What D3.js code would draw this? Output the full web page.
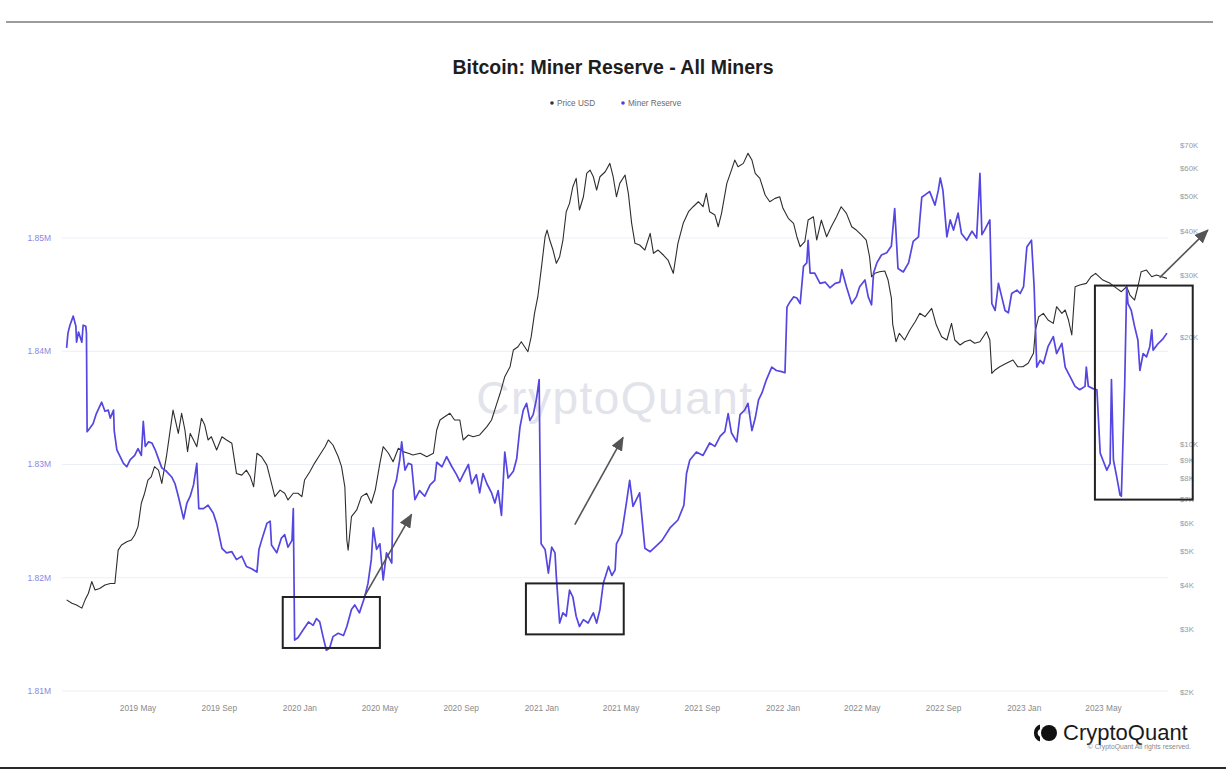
<!DOCTYPE html>
<html><head><meta charset="utf-8">
<script src="https://cdn.jsdelivr.net/npm/d3@7"></script>
<style>html,body{margin:0;padding:0;background:#fff;} svg{display:block;font-family:"Liberation Sans",Arial,sans-serif;}</style>
</head><body><svg id="chart" width="1226" height="784"></svg>
<script>
const reserveDates = ["2019-01-13","2019-01-15","2019-01-18","2019-01-23","2019-01-27","2019-01-28","2019-01-31","2019-02-05","2019-02-07","2019-02-11","2019-02-12","2019-02-13","2019-02-17","2019-02-22","2019-02-27","2019-03-07","2019-03-12","2019-03-17","2019-03-20","2019-03-25","2019-03-26","2019-03-30","2019-04-04","2019-04-09","2019-04-14","2019-04-19","2019-04-26","2019-05-01","2019-05-06","2019-05-09","2019-05-12","2019-05-17","2019-05-22","2019-05-27","2019-06-01","2019-06-06","2019-06-13","2019-06-21","2019-06-26","2019-07-01","2019-07-09","2019-07-14","2019-07-19","2019-07-24","2019-07-29","2019-08-01","2019-08-08","2019-08-15","2019-08-23","2019-08-28","2019-09-05","2019-09-12","2019-09-20","2019-09-27","2019-10-05","2019-10-12","2019-10-20","2019-10-28","2019-10-31","2019-11-04","2019-11-12","2019-11-17","2019-11-19","2019-11-27","2019-12-04","2019-12-09","2019-12-14","2019-12-20","2019-12-22","2019-12-24","2019-12-29","2020-01-06","2020-01-14","2020-01-21","2020-01-26","2020-01-31","2020-02-05","2020-02-10","2020-02-15","2020-02-20","2020-02-28","2020-03-07","2020-03-12","2020-03-19","2020-03-24","2020-03-31","2020-04-08","2020-04-13","2020-04-18","2020-04-21","2020-04-26","2020-05-01","2020-05-06","2020-05-11","2020-05-19","2020-05-21","2020-05-26","2020-05-31","2020-06-03","2020-06-08","2020-06-13","2020-06-18","2020-06-23","2020-06-30","2020-07-08","2020-07-16","2020-07-23","2020-07-26","2020-08-03","2020-08-10","2020-08-18","2020-08-25","2020-08-30","2020-09-04","2020-09-12","2020-09-17","2020-09-24","2020-09-29","2020-10-04","2020-10-10","2020-10-17","2020-10-22","2020-10-27","2020-11-01","2020-11-06","2020-11-11","2020-11-19","2020-11-24","2020-11-29","2020-12-04","2020-12-09","2020-12-14","2020-12-19","2020-12-24","2020-12-28","2020-12-29","2020-12-31","2021-01-06","2021-01-11","2021-01-16","2021-01-21","2021-01-23","2021-01-28","2021-02-02","2021-02-07","2021-02-12","2021-02-17","2021-02-22","2021-02-27","2021-03-05","2021-03-12","2021-03-20","2021-03-25","2021-03-30","2021-04-04","2021-04-12","2021-04-17","2021-04-22","2021-04-24","2021-05-02","2021-05-09","2021-05-14","2021-05-19","2021-05-29","2021-06-06","2021-06-14","2021-06-23","2021-07-02","2021-07-14","2021-07-26","2021-08-04","2021-08-08","2021-08-13","2021-08-23","2021-09-02","2021-09-12","2021-09-20","2021-09-28","2021-10-05","2021-10-10","2021-10-15","2021-10-23","2021-10-28","2021-11-04","2021-11-09","2021-11-15","2021-11-20","2021-11-25","2021-11-30","2021-12-07","2021-12-15","2021-12-22","2021-12-30","2022-01-04","2022-01-07","2022-01-12","2022-01-17","2022-01-22","2022-01-27","2022-02-01","2022-02-06","2022-02-08","2022-02-11","2022-02-18","2022-02-26","2022-03-06","2022-03-13","2022-03-21","2022-03-28","2022-03-31","2022-04-07","2022-04-15","2022-04-22","2022-04-27","2022-05-05","2022-05-10","2022-05-15","2022-05-18","2022-05-23","2022-05-30","2022-06-07","2022-06-14","2022-06-19","2022-06-24","2022-07-02","2022-07-10","2022-07-17","2022-07-25","2022-07-27","2022-07-30","2022-08-06","2022-08-11","2022-08-19","2022-08-24","2022-08-27","2022-08-31","2022-09-06","2022-09-11","2022-09-16","2022-09-23","2022-09-28","2022-10-06","2022-10-14","2022-10-21","2022-10-26","2022-10-29","2022-11-02","2022-11-10","2022-11-13","2022-11-18","2022-11-23","2022-11-28","2022-12-03","2022-12-08","2022-12-13","2022-12-21","2022-12-26","2022-12-31","2023-01-05","2023-01-12","2023-01-16","2023-01-20","2023-01-25","2023-01-30","2023-02-06","2023-02-14","2023-02-19","2023-02-27","2023-03-04","2023-03-11","2023-03-19","2023-03-26","2023-04-03","2023-04-05","2023-04-08","2023-04-15","2023-04-21","2023-04-26","2023-04-30","2023-05-06","2023-05-11","2023-05-13","2023-05-16","2023-05-21","2023-05-26","2023-05-28","2023-06-02","2023-06-05","2023-06-07","2023-06-12","2023-06-17","2023-06-22","2023-06-25","2023-06-30","2023-07-05","2023-07-10","2023-07-13","2023-07-15","2023-07-23","2023-07-30","2023-08-05"];
const reserveValues = [1.8403,1.8416,1.8423,1.8431,1.8422,1.8408,1.8417,1.8408,1.8423,1.8422,1.8416,1.8329,1.8332,1.8336,1.8345,1.8355,1.8347,1.8348,1.8341,1.8348,1.8330,1.8313,1.8307,1.8301,1.8298,1.8304,1.8308,1.8314,1.8308,1.8338,1.8316,1.8320,1.8319,1.8313,1.8305,1.8297,1.8294,1.8289,1.8283,1.8272,1.8252,1.8266,1.8272,1.8282,1.8301,1.8261,1.8261,1.8264,1.8257,1.8248,1.8226,1.8222,1.8223,1.8216,1.8219,1.8210,1.8208,1.8205,1.8225,1.8233,1.8248,1.8250,1.8229,1.8222,1.8235,1.8238,1.8227,1.8233,1.8261,1.8145,1.8147,1.8154,1.8161,1.8158,1.8164,1.8161,1.8148,1.8136,1.8138,1.8148,1.8151,1.8149,1.8157,1.8172,1.8176,1.8169,1.8183,1.8195,1.8216,1.8244,1.8225,1.8230,1.8198,1.8222,1.8213,1.8277,1.8286,1.8304,1.8320,1.8295,1.8301,1.8300,1.8269,1.8277,1.8272,1.8282,1.8286,1.8302,1.8298,1.8307,1.8298,1.8291,1.8285,1.8291,1.8300,1.8283,1.8291,1.8275,1.8292,1.8283,1.8275,1.8266,1.8277,1.8255,1.8311,1.8288,1.8294,1.8305,1.8333,1.8348,1.8354,1.8339,1.8344,1.8358,1.8375,1.8319,1.8230,1.8225,1.8204,1.8227,1.8222,1.8201,1.8160,1.8169,1.8166,1.8189,1.8183,1.8166,1.8157,1.8163,1.8160,1.8169,1.8160,1.8172,1.8195,1.8210,1.8202,1.8207,1.8230,1.8239,1.8266,1.8286,1.8263,1.8275,1.8226,1.8223,1.8228,1.8233,1.8244,1.8251,1.8264,1.8292,1.8304,1.8311,1.8308,1.8319,1.8316,1.8325,1.8329,1.8345,1.8328,1.8320,1.8344,1.8348,1.8354,1.8330,1.8341,1.8357,1.8363,1.8375,1.8386,1.8383,1.8382,1.8381,1.8439,1.8444,1.8448,1.8447,1.8442,1.8475,1.8478,1.8498,1.8469,1.8469,1.8460,1.8461,1.8456,1.8460,1.8461,1.8472,1.8457,1.8442,1.8448,1.8457,1.8463,1.8448,1.8441,1.8469,1.8478,1.8485,1.8487,1.8493,1.8526,1.8473,1.8470,1.8478,1.8497,1.8501,1.8516,1.8536,1.8539,1.8541,1.8529,1.8542,1.8553,1.8542,1.8501,1.8516,1.8507,1.8522,1.8504,1.8498,1.8506,1.8500,1.8557,1.8503,1.8507,1.8516,1.8442,1.8436,1.8460,1.8448,1.8436,1.8434,1.8451,1.8454,1.8451,1.8457,1.8492,1.8498,1.8457,1.8386,1.8392,1.8389,1.8404,1.8413,1.8398,1.8407,1.8386,1.8378,1.8369,1.8366,1.8369,1.8386,1.8369,1.8367,1.8366,1.8310,1.8304,1.8295,1.8301,1.8375,1.8304,1.8289,1.8273,1.8272,1.8369,1.8457,1.8442,1.8436,1.8422,1.8410,1.8383,1.8398,1.8395,1.8404,1.8419,1.8401,1.8407,1.8411,1.8416];

const priceDates = ["2019-01-13","2019-01-21","2019-01-28","2019-02-05","2019-02-10","2019-02-15","2019-02-20","2019-02-25","2019-03-04","2019-03-12","2019-03-20","2019-03-27","2019-04-01","2019-04-06","2019-04-14","2019-04-21","2019-04-26","2019-05-01","2019-05-06","2019-05-11","2019-05-16","2019-05-21","2019-05-26","2019-06-01","2019-06-06","2019-06-13","2019-06-18","2019-06-23","2019-06-27","2019-07-01","2019-07-06","2019-07-11","2019-07-15","2019-07-19","2019-07-24","2019-07-29","2019-08-05","2019-08-10","2019-08-15","2019-08-20","2019-08-28","2019-09-05","2019-09-12","2019-09-20","2019-09-27","2019-10-05","2019-10-12","2019-10-18","2019-10-23","2019-10-28","2019-11-04","2019-11-12","2019-11-19","2019-11-24","2019-12-02","2019-12-09","2019-12-14","2019-12-22","2019-12-29","2020-01-04","2020-01-08","2020-01-16","2020-01-23","2020-01-31","2020-02-08","2020-02-13","2020-02-20","2020-02-28","2020-03-04","2020-03-09","2020-03-12","2020-03-14","2020-03-19","2020-03-27","2020-04-03","2020-04-11","2020-04-18","2020-04-24","2020-05-01","2020-05-06","2020-05-14","2020-05-21","2020-05-29","2020-06-05","2020-06-13","2020-06-20","2020-07-01","2020-07-11","2020-07-21","2020-07-26","2020-07-31","2020-08-07","2020-08-15","2020-08-22","2020-08-30","2020-09-04","2020-09-12","2020-09-19","2020-09-29","2020-10-10","2020-10-17","2020-10-25","2020-10-30","2020-11-06","2020-11-14","2020-11-19","2020-11-26","2020-12-01","2020-12-06","2020-12-11","2020-12-16","2020-12-21","2020-12-26","2020-12-31","2021-01-06","2021-01-09","2021-01-13","2021-01-18","2021-01-23","2021-01-28","2021-02-02","2021-02-07","2021-02-12","2021-02-17","2021-02-22","2021-02-27","2021-03-05","2021-03-10","2021-03-15","2021-03-20","2021-03-25","2021-03-30","2021-04-07","2021-04-14","2021-04-19","2021-04-24","2021-04-29","2021-05-07","2021-05-12","2021-05-17","2021-05-22","2021-05-29","2021-06-06","2021-06-14","2021-06-19","2021-06-26","2021-07-04","2021-07-11","2021-07-19","2021-07-26","2021-08-03","2021-08-11","2021-08-18","2021-08-26","2021-09-02","2021-09-07","2021-09-12","2021-09-20","2021-09-25","2021-09-30","2021-10-08","2021-10-15","2021-10-20","2021-10-25","2021-11-02","2021-11-09","2021-11-15","2021-11-20","2021-11-27","2021-12-05","2021-12-12","2021-12-20","2021-12-27","2022-01-01","2022-01-09","2022-01-17","2022-01-22","2022-01-27","2022-02-03","2022-02-08","2022-02-16","2022-02-21","2022-02-28","2022-03-08","2022-03-15","2022-03-23","2022-03-30","2022-04-07","2022-04-15","2022-04-22","2022-04-30","2022-05-07","2022-05-12","2022-05-15","2022-05-20","2022-05-27","2022-06-04","2022-06-09","2022-06-14","2022-06-16","2022-06-21","2022-06-26","2022-07-04","2022-07-12","2022-07-20","2022-07-27","2022-08-04","2022-08-14","2022-08-21","2022-08-29","2022-09-06","2022-09-13","2022-09-18","2022-09-26","2022-10-03","2022-10-11","2022-10-18","2022-10-26","2022-11-05","2022-11-10","2022-11-13","2022-11-18","2022-11-25","2022-12-05","2022-12-15","2022-12-22","2022-12-30","2023-01-07","2023-01-15","2023-01-18","2023-01-23","2023-01-30","2023-02-06","2023-02-14","2023-02-19","2023-02-27","2023-03-04","2023-03-09","2023-03-14","2023-03-19","2023-03-26","2023-04-05","2023-04-12","2023-04-19","2023-04-30","2023-05-11","2023-05-21","2023-05-28","2023-06-05","2023-06-10","2023-06-17","2023-06-22","2023-06-27","2023-07-05","2023-07-13","2023-07-20","2023-07-28","2023-08-05"];
const priceValues = [3640,3560,3520,3450,3640,3800,4100,3880,3920,4010,4050,4050,5030,5200,5310,5370,5550,5860,6820,7280,7930,8100,8650,8460,7760,9230,10740,12500,11590,10740,12240,10980,9540,10740,10290,9850,11850,11340,10290,10510,9640,10510,10290,10070,8280,8190,8460,8100,7590,9440,9230,8740,7760,7120,7430,7280,6970,7280,7280,7120,7930,8370,8840,9330,9850,10290,9960,9230,8650,7590,5370,5030,6250,6530,7120,7280,6820,7430,8840,9850,9440,8930,9750,9540,9440,9330,9440,9230,9440,10980,11720,11970,12240,11720,11720,10290,10630,10510,10630,11220,11720,13060,13940,15530,16570,18470,18870,19490,18870,18260,20140,23440,26110,31050,38560,40270,37740,35370,32440,33860,37740,45370,47900,53370,56350,45870,50000,58220,59480,56950,52240,56950,58830,62120,56950,50000,54560,57580,51130,42070,36940,36540,35370,39420,34620,35370,34240,33140,30400,36940,42070,45370,46860,48410,46860,51130,45370,44400,41150,44890,54560,59480,63470,60770,62120,66300,63470,58220,56350,50570,48410,49480,50000,46370,43460,42070,38560,36140,37330,42980,43920,37740,42980,38560,41150,43920,46860,44890,41150,40270,38990,37740,33860,29730,30400,30720,30850,29100,25890,21860,19490,20580,19710,21030,22200,23440,22930,24210,21720,20140,19710,21960,19710,19080,19490,19710,19290,19490,20800,19710,15870,16220,16570,16940,17300,16570,16570,16940,18070,21030,22930,23440,22440,21960,24470,23440,23950,22440,20360,27860,28170,28480,29730,30400,29100,28480,27570,26980,27860,26400,25560,27860,30720,31050,29730,30060,29730,29420];

const leftTicks = [1.81, 1.82, 1.83, 1.84, 1.85];
const leftTickLabels = ["1.81M", "1.82M", "1.83M", "1.84M", "1.85M"];
const rightTicks = [2000, 3000, 4000, 5000, 6000, 7000, 8000, 9000, 10000, 20000, 30000, 40000, 50000, 60000, 70000];
const rightTickLabels = ["$2K", "$3K", "$4K", "$5K", "$6K", "$7K", "$8K", "$9K", "$10K", "$20K", "$30K", "$40K", "$50K", "$60K", "$70K"];
const xTickDates = ["2019-05-01","2019-09-01","2020-01-01","2020-05-01","2020-09-01","2021-01-01","2021-05-01","2021-09-01","2022-01-01","2022-05-01","2022-09-01","2023-01-01","2023-05-01"];
const xTickLabels = ["2019 May","2019 Sep","2020 Jan","2020 May","2020 Sep","2021 Jan","2021 May","2021 Sep","2022 Jan","2022 May","2022 Sep","2023 Jan","2023 May"];
const seriesNames = ["Price USD", "Miner Reserve"];

// annotation boxes and arrows (in data units of the reserve axis)
const boxStartDates = ["2019-12-06", "2020-12-08", "2023-04-18"];
const boxEndDates = ["2020-05-01", "2021-05-05", "2023-09-13"];
const boxTopValues = [1.8183, 1.8195, 1.8458];
const boxBottomValues = [1.8138, 1.8150, 1.8269];
const arrowFromDates = ["2020-04-08", "2021-02-20", "2023-07-25"];
const arrowFromValues = [1.8184, 1.8247, 1.8465];
const arrowToDates = ["2020-06-18", "2021-05-04", "2023-10-06"];
const arrowToValues = [1.8256, 1.8324, 1.8507];

const parse = d3.timeParse("%Y-%m-%d");
const svg = d3.select("#chart");
const W = 1226, H = 784;
const plotLeft = 62, plotRight = 1168;

const x = d3.scaleTime().domain([parse("2019-01-01"), parse("2023-09-01")]).range([58.7, 1184.8]);
const yL = d3.scaleLinear().domain([1.81, 1.85]).range([691, 238]);
const yR = d3.scaleLog().domain([2000, 70000]).range([692, 145]);

svg.append("rect").attr("width", W).attr("height", H).attr("fill", "#fff");
// frame lines
svg.append("line").attr("x1", 6).attr("x2", 1213).attr("y1", 22).attr("y2", 22).attr("stroke", "#9c9c9c").attr("stroke-width", 2);
svg.append("line").attr("x1", 0).attr("x2", W).attr("y1", 768).attr("y2", 768).attr("stroke", "#2a2a2a").attr("stroke-width", 2);

// title
svg.append("text").attr("x", 613).attr("y", 74).attr("text-anchor", "middle")
  .attr("font-size", 19.5).attr("font-weight", "bold").attr("fill", "#1e1e1e")
  .text("Bitcoin: Miner Reserve - All Miners");

// legend
const legendX = [552, 623];
const legendColors = ["#333333", "#4b3fe0"];
seriesNames.forEach((n, i) => {
  svg.append("circle").attr("cx", legendX[i]).attr("cy", 103).attr("r", 1.8).attr("fill", legendColors[i]);
  svg.append("text").attr("x", legendX[i] + 5).attr("y", 106).attr("font-size", 8.2).attr("fill", "#6a6a6a").text(n);
});

// grid lines
svg.append("g").selectAll("line").data(leftTicks).join("line")
  .attr("x1", plotLeft).attr("x2", plotRight)
  .attr("y1", d => yL(d)).attr("y2", d => yL(d))
  .attr("stroke", "#eceef6").attr("stroke-width", 1);

// left axis labels
svg.append("g").selectAll("text").data(leftTicks).join("text")
  .attr("x", 51).attr("y", d => yL(d)).attr("dy", "0.35em").attr("text-anchor", "end")
  .attr("font-size", 8.5).attr("fill", "#8b85e6")
  .text((d, i) => leftTickLabels[i]);

// right axis labels
svg.append("g").selectAll("text").data(rightTicks).join("text")
  .attr("x", 1180).attr("y", d => yR(d)).attr("dy", "0.35em").attr("text-anchor", "start")
  .attr("font-size", 7.8).attr("fill", "#9a9a9a")
  .text((d, i) => rightTickLabels[i]);

// x axis labels
svg.append("g").selectAll("text").data(xTickDates).join("text")
  .attr("x", d => x(parse(d))).attr("y", 711).attr("text-anchor", "middle")
  .attr("font-size", 8.3).attr("fill", "#8a8a8a")
  .text((d, i) => xTickLabels[i]);

// watermark
svg.append("text").attr("x", 615).attr("y", 414).attr("text-anchor", "middle")
  .attr("font-size", 46).attr("letter-spacing", 1.5).attr("fill", "#e3e3eb")
  .text("CryptoQuant");

// price line
const priceData = priceDates.map((d, i) => ({ date: parse(d), value: priceValues[i] }));
const reserveData = reserveDates.map((d, i) => ({ date: parse(d), value: reserveValues[i] }));

svg.append("path").datum(priceData)
  .attr("fill", "none").attr("stroke", "#2e2e2e").attr("stroke-width", 1.1).attr("stroke-linejoin", "round")
  .attr("d", d3.line().x(d => x(d.date)).y(d => yR(d.value)));

svg.append("path").datum(reserveData)
  .attr("fill", "none").attr("stroke", "#5446e0").attr("stroke-width", 1.7).attr("stroke-linejoin", "round")
  .attr("d", d3.line().x(d => x(d.date)).y(d => yL(d.value)));

// annotation boxes
svg.append("g").selectAll("rect").data(boxStartDates).join("rect")
  .attr("x", (d, i) => x(parse(d)))
  .attr("y", (d, i) => yL(boxTopValues[i]))
  .attr("width", (d, i) => x(parse(boxEndDates[i])) - x(parse(d)))
  .attr("height", (d, i) => yL(boxBottomValues[i]) - yL(boxTopValues[i]))
  .attr("fill", "none").attr("stroke", "#222").attr("stroke-width", 2);

// arrows
const defs = svg.append("defs");
defs.append("marker").attr("id", "ah").attr("markerUnits", "userSpaceOnUse")
  .attr("viewBox", "0 0 14 12").attr("markerWidth", 14).attr("markerHeight", 12)
  .attr("refX", 13).attr("refY", 6).attr("orient", "auto")
  .append("path").attr("d", "M0,0L14,6L0,12Z").attr("fill", "#555");
svg.append("g").selectAll("line").data(arrowFromDates).join("line")
  .attr("x1", d => x(parse(d))).attr("y1", (d, i) => yL(arrowFromValues[i]))
  .attr("x2", (d, i) => x(parse(arrowToDates[i]))).attr("y2", (d, i) => yL(arrowToValues[i]))
  .attr("stroke", "#555").attr("stroke-width", 1.6).attr("marker-end", "url(#ah)");

// logo
const logo = svg.append("g");
logo.append("path").attr("d", "M1040,724.5 A9,9 0 0 0 1040,741.5 L1040,737 A4.5,4.5 0 0 1 1040,729 Z").attr("fill", "#111");
logo.append("circle").attr("cx", 1049).attr("cy", 733).attr("r", 8).attr("fill", "#111");
logo.append("text").attr("x", 1063).attr("y", 740).attr("font-size", 22).attr("fill", "#1a1a1a").text("CryptoQuant");
logo.append("text").attr("x", 1191).attr("y", 749).attr("text-anchor", "end").attr("font-size", 6.8).attr("fill", "#8a8a8a")
  .text("© CryptoQuant All rights reserved.");
</script>
</body></html>
